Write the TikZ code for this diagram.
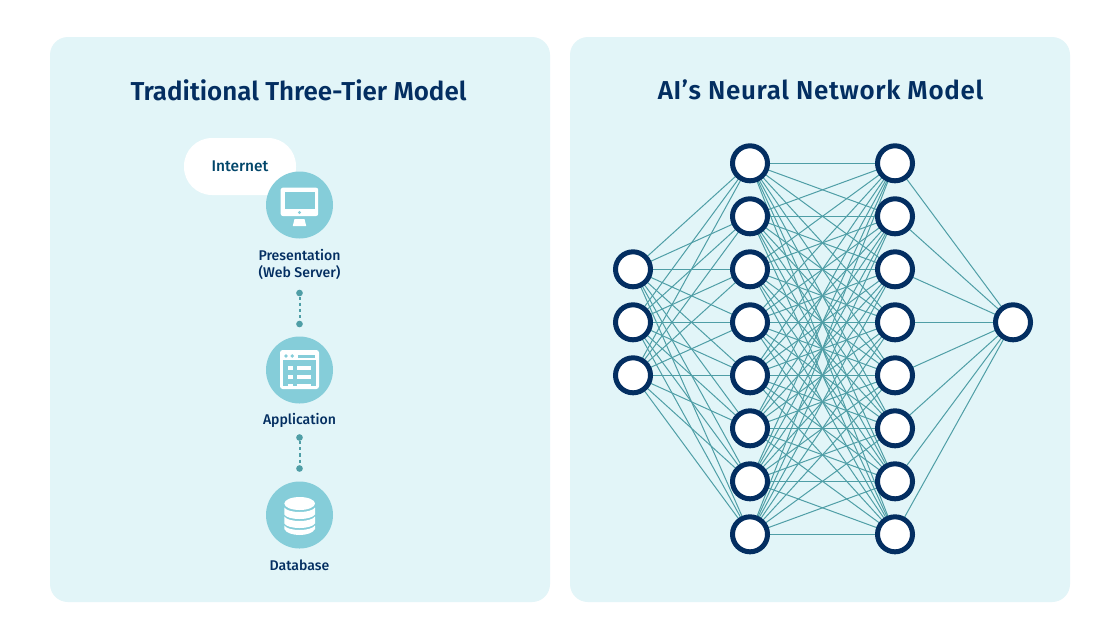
\documentclass[tikz,border=0pt]{standalone}
\usepackage{fontspec}
\setmainfont{Fira Sans Medium}
\newfontfamily\titlefont{Fira Sans SemiBold}
\newfontfamily\titlewide[LetterSpace=2.7]{Fira Sans SemiBold}
\definecolor{panelc}{HTML}{E2F5F8}
\definecolor{circc}{HTML}{85CDD9}
\definecolor{linec}{HTML}{4F9EA6}
\definecolor{navyc}{HTML}{032E61}
\pgfdeclarelayer{panels}
\pgfdeclarelayer{edges}
\pgfsetlayers{panels,edges,main}
\tikzset{
  panelbox/.style={fill=panelc,draw=none,rounded corners=13.5pt,minimum width=375pt,minimum height=423.75pt,inner sep=0pt},
  titletext/.style={text=navyc,font=\titlefont\fontsize{19.45}{22}\selectfont,inner sep=0pt},
  titlewidetext/.style={text=navyc,font=\titlewide\fontsize{19.45}{22}\selectfont,inner sep=0pt},
  labeltext/.style={text=navyc,font=\fontsize{10.55}{12.4}\selectfont,inner sep=0pt,align=center},
  tiercirc/.style={circle,fill=circc,minimum size=50.25pt,inner sep=0pt},
  pill/.style={fill=white,rounded corners=21pt,minimum width=84pt,minimum height=42.75pt,inner sep=0pt,font=\fontsize{11.6}{12}\selectfont,text=navyc!70!teal},
  endpoint/.style={circle,fill=linec,minimum size=5pt,inner sep=0pt},
  tierlink/.style={draw=linec,line width=1.5pt,dash pattern=on 2.4pt off 2.2pt},
  neuron/.style={circle,draw=navyc,line width=3.75pt,fill=white,minimum size=26.25pt,inner sep=0pt,outer sep=0pt},
  synapse/.style={draw=linec,line width=0.75pt},
}
\begin{document}
\begin{tikzpicture}[x=0.75pt,y=-0.75pt]
\useasboundingbox (0,0) rectangle (1119,633);
\begin{pgfonlayer}{panels}
\fill[white] (0,0) rectangle (1119,633);
\node[panelbox] (left) at (300,319.5) {};
\node[panelbox] (right) at (820,319.5) {};
\end{pgfonlayer}
\node[titletext] (t1) at (298.5,90) {Traditional Three-Tier Model};
\node[titlewidetext] (t2) at (820.5,90) {AI’s Neural Network Model};
% left column
\node[pill] (internet) at (240,166.5) {\raisebox{-0.6pt}{Internet}};
\node[tiercirc] (pres) at (299.5,205) {};
\node[tiercirc] (app) at (299.5,370) {};
\node[tiercirc] (db) at (299.5,515) {};
\node[labeltext] (presl) at (299.5,264.5) {Presentation\\(Web Server)};
\node[labeltext] (appl) at (299.5,420.5) {Application};
\node[labeltext] (dbl) at (299.5,565.5) {Database};
\node[endpoint] (d1) at (299.5,293) {};
\node[endpoint] (d2) at (299.5,324) {};
\node[endpoint] (d3) at (299.5,437.5) {};
\node[endpoint] (d4) at (299.5,468.5) {};
\draw[tierlink] (d1) -- (d2);
\draw[tierlink] (d3) -- (d4);
% monitor icon
\fill[white,rounded corners=1.6pt] (280.7,187.7) rectangle (318.2,216);
\fill[circc] (285,192.3) rectangle (314.5,209.3);
\fill[circc] (299.5,212.5) circle[radius=1.7];
\fill[white] (294.5,219) -- (304.5,219) -- (306.2,226) -- (292.8,226) -- cycle;
% application icon
\fill[white,rounded corners=2pt] (280,350) rectangle (319,389);
\fill[circc] (283,360) rectangle (316,386);
\fill[circc] (286,356) circle[radius=1.9];
\fill[circc] (292.3,356) circle[radius=1.9];
\fill[circc] (298,354.5) rectangle (315,357.5);
\foreach \yy in {366,375,383.5}{
  \fill[white] (288,\yy) rectangle (292.5,\yy+4);
  \fill[white] (297,\yy) rectangle (311,\yy+4);
}
\fill[white] (283,386) rectangle (316,389);
% database icon
\fill[white] (284.3,503.5) arc[start angle=180,end angle=360,x radius=15.35,y radius=6.5] arc[start angle=0,end angle=180,x radius=15.35,y radius=6.5] -- cycle;
\fill[white] (284.3,507.5) .. controls (288,513.5) and (311,513.5) .. (315,507.5) -- (315,514.5) .. controls (311,520.5) and (288,520.5) .. (284.3,514.5) -- cycle;
\fill[white] (284.3,516.5) .. controls (288,522.5) and (311,522.5) .. (315,516.5) -- (315,523.5) .. controls (311,529.5) and (288,529.5) .. (284.3,523.5) -- cycle;
\fill[white] (284.3,525.5) .. controls (288,531.5) and (311,531.5) .. (315,525.5) -- (315,529) .. controls (311,537) and (288,537) .. (284.3,529) -- cycle;
% network
\foreach \i/\yy in {1/269.3,2/322.3,3/375.3}{ \node[neuron] (a\i) at (633,\yy) {}; }
\foreach \i/\yy in {1/163.3,2/216.3,3/269.3,4/322.3,5/375.3,6/428.3,7/481.3,8/534.3}{
  \node[neuron] (b\i) at (750,\yy) {};
  \node[neuron] (c\i) at (895,\yy) {};
}
\node[neuron] (o) at (1013,322.3) {};
\begin{pgfonlayer}{edges}
\foreach \j in {1,...,8}{
  \foreach \i in {1,2,3}{ \draw[synapse] (a\i) -- (b\j); }
  \foreach \k in {1,...,8}{ \draw[synapse] (b\j) -- (c\k); }
  \draw[synapse] (c\j) -- (o);
}
\end{pgfonlayer}
\end{tikzpicture}
\end{document}
